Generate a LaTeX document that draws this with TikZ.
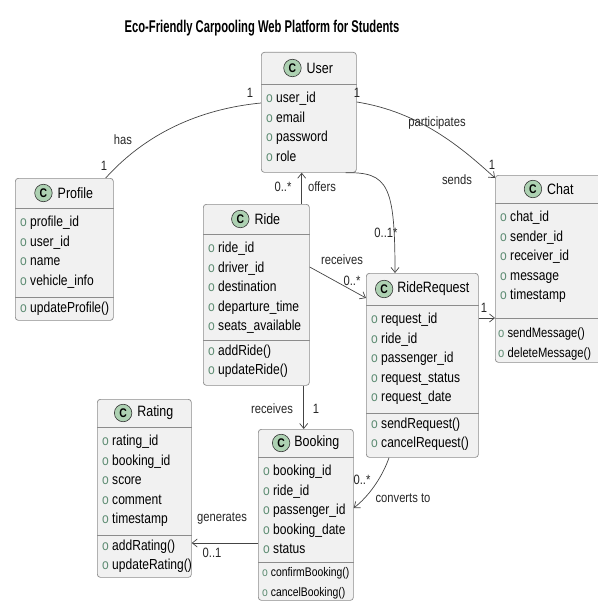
\documentclass[tikz,border=0pt]{standalone}
\usepackage{fontspec}
\setmainfont{Liberation Sans}[FakeStretch=0.83]
\newfontfamily\titlefont{Liberation Sans}[FakeStretch=0.66]
\usetikzlibrary{arrows.meta, positioning}
\definecolor{classfill}{HTML}{F1F1F1}
\definecolor{classline}{HTML}{8C8C8C}
\definecolor{badgegreen}{HTML}{ADD1B2}
\definecolor{fieldmark}{HTML}{5F8D74}
\definecolor{linkgray}{HTML}{444444}
\newcommand{\fld}[1]{\strut\textcolor{fieldmark}{o}~#1}

\begin{document}
\begin{tikzpicture}[x=1pt, y=-1pt,
  classbox/.style={rectangle, rounded corners=3pt, draw=classline, fill=classfill, line width=0.7pt, anchor=north west, inner sep=0pt},
  classname/.style={font=\fontsize{15}{17}\selectfont, inner sep=0pt},
  badge/.style={circle, draw=black!80, fill=badgegreen, line width=0.6pt, minimum size=17.5pt, inner sep=0pt, font=\bfseries\fontsize{12.5}{13}\selectfont},
  sepline/.style={draw=classline, line width=0.7pt},
  fields/.style={anchor=north west, inner sep=0pt, align=left, font=\fontsize{14.5}{19.5}\selectfont},
  smallfields/.style={fields, font=\fontsize{12.5}{19.5}\selectfont},
  link/.style={draw=linkgray, line width=0.7pt},
  arr/.style={link, -{Straight Barb[length=5pt, width=8pt]}},
  lbl/.style={font=\fontsize{13.5}{15}\selectfont, inner sep=0pt, text=black!85}]
\useasboundingbox (0,0) rectangle (597,604);

% Title
\node[font=\titlefont\bfseries\fontsize{17}{20}\selectfont] (title) at (262,28) {Eco-Friendly Carpooling Web Platform for Students};

% User
\node[classbox, minimum width=95, minimum height=120] (user) at (261,52) {};
\node[classname] (usern) at ([xshift=11pt, yshift=-16pt]user.north) {User};
\node[badge, left=5pt of usern] (userc) {C};
\draw[sepline] ([yshift=-32pt]user.north west) -- ([yshift=-32pt]user.north east);
\node[fields] (userf) at ([xshift=5pt, yshift=-37pt]user.north west) {\fld{user\_id}\\ \fld{email}\\ \fld{password}\\ \fld{role}};

% Profile
\node[classbox, minimum width=98, minimum height=142] (profile) at (15,178) {};
\node[classname] (profilen) at ([xshift=11pt, yshift=-15pt]profile.north) {Profile};
\node[badge, left=5pt of profilen] (profilec) {C};
\draw[sepline] ([yshift=-30pt]profile.north west) -- ([yshift=-30pt]profile.north east);
\draw[sepline] ([yshift=-119pt]profile.north west) -- ([yshift=-119pt]profile.north east);
\node[fields] (profilef) at ([xshift=5pt, yshift=-35pt]profile.north west) {\fld{profile\_id}\\ \fld{user\_id}\\ \fld{name}\\ \fld{vehicle\_info}};
\node[fields] (profilem) at ([xshift=5pt, yshift=-120.5pt]profile.north west) {\fld{updateProfile()}};

% Ride
\node[classbox, minimum width=106, minimum height=181] (ride) at (203,204) {};
\node[classname] (riden) at ([xshift=11pt, yshift=-15pt]ride.north) {Ride};
\node[badge, left=5pt of riden] (ridec) {C};
\draw[sepline] ([yshift=-30pt]ride.north west) -- ([yshift=-30pt]ride.north east);
\draw[sepline] ([yshift=-136pt]ride.north west) -- ([yshift=-136pt]ride.north east);
\node[fields] (ridef) at ([xshift=5pt, yshift=-35pt]ride.north west) {\fld{ride\_id}\\ \fld{driver\_id}\\ \fld{destination}\\ \fld{departure\_time}\\ \fld{seats\_available}};
\node[fields] (ridem) at ([xshift=5pt, yshift=-137.5pt]ride.north west) {\fld{addRide()}\\ \fld{updateRide()}};

% RideRequest
\node[classbox, minimum width=112, minimum height=184] (riderequest) at (366,273) {};
\node[classname] (riderequestn) at ([xshift=11pt, yshift=-16pt]riderequest.north) {RideRequest};
\node[badge, left=4pt of riderequestn] (riderequestc) {C};
\draw[sepline] ([yshift=-32pt]riderequest.north west) -- ([yshift=-32pt]riderequest.north east);
\draw[sepline] ([yshift=-140pt]riderequest.north west) -- ([yshift=-140pt]riderequest.north east);
\node[fields] (riderequestf) at ([xshift=5pt, yshift=-37pt]riderequest.north west) {\fld{request\_id}\\ \fld{ride\_id}\\ \fld{passenger\_id}\\ \fld{request\_status}\\ \fld{request\_date}};
\node[fields] (riderequestm) at ([xshift=5pt, yshift=-141.5pt]riderequest.north west) {\fld{sendRequest()}\\ \fld{cancelRequest()}};

% Chat
\node[classbox, minimum width=108, minimum height=187] (chat) at (495,175) {};
\node[classname] (chatn) at ([xshift=11pt, yshift=-14pt]chat.north) {Chat};
\node[badge, left=5pt of chatn] (chatc) {C};
\draw[sepline] ([yshift=-28pt]chat.north west) -- ([yshift=-28pt]chat.north east);
\draw[sepline] ([yshift=-143pt]chat.north west) -- ([yshift=-143pt]chat.north east);
\node[fields] (chatf) at ([xshift=5pt, yshift=-33pt]chat.north west) {\fld{chat\_id}\\ \fld{sender\_id}\\ \fld{receiver\_id}\\ \fld{message}\\ \fld{timestamp}};
\node[fields, font=\fontsize{13.5}{19.5}\selectfont] (chatm) at ([xshift=3pt, yshift=-149pt]chat.north west) {\fld{sendMessage()}\\ \fld{deleteMessage()}};

% Rating
\node[classbox, minimum width=94, minimum height=178] (rating) at (97,399) {};
\node[classname] (ratingn) at ([xshift=11pt, yshift=-14pt]rating.north) {Rating};
\node[badge, left=5pt of ratingn] (ratingc) {C};
\draw[sepline] ([yshift=-28pt]rating.north west) -- ([yshift=-28pt]rating.north east);
\draw[sepline] ([yshift=-136pt]rating.north west) -- ([yshift=-136pt]rating.north east);
\node[fields] (ratingf) at ([xshift=5pt, yshift=-33pt]rating.north west) {\fld{rating\_id}\\ \fld{booking\_id}\\ \fld{score}\\ \fld{comment}\\ \fld{timestamp}};
\node[fields] (ratingm) at ([xshift=5pt, yshift=-137.5pt]rating.north west) {\fld{addRating()}\\ \fld{updateRating()}};

% Booking
\node[classbox, minimum width=95, minimum height=171] (booking) at (258,429) {};
\node[classname] (bookingn) at ([xshift=11pt, yshift=-14pt]booking.north) {Booking};
\node[badge, left=4pt of bookingn] (bookingc) {C};
\draw[sepline] ([yshift=-28pt]booking.north west) -- ([yshift=-28pt]booking.north east);
\draw[sepline] ([yshift=-133pt]booking.north west) -- ([yshift=-133pt]booking.north east);
\node[fields] (bookingf) at ([xshift=5pt, yshift=-33pt]booking.north west) {\fld{booking\_id}\\ \fld{ride\_id}\\ \fld{passenger\_id}\\ \fld{booking\_date}\\ \fld{status}};
\node[smallfields] (bookingm) at ([xshift=4pt, yshift=-134pt]booking.north west) {\fld{confirmBooking()}\\ \fld{cancelBooking()}};

% Associations
\draw[link] ([yshift=-51pt]user.north west) .. controls (190,110) and (140,140) .. ([xshift=-8pt]profile.north east);
\draw[arr] ([yshift=-50pt]user.north east) .. controls (420,112) and (462,148) .. ([yshift=-3pt]chat.north west);
\coordinate (offx) at ([xshift=-8pt]ride.north east);
\draw[arr] (offx) -- (offx |- user.south);
\coordinate (reqin) at ([xshift=29pt]riderequest.north west);
\draw[arr] ([xshift=-11pt]user.south east) .. controls (388,172) and (395,185) .. (reqin);
\draw[arr] ([yshift=-63pt]ride.north east) -- ([yshift=-25pt]riderequest.north west);
\coordinate (bkx) at ([xshift=-6pt]ride.south east);
\draw[arr] (bkx) -- (bkx |- booking.north);
\draw[arr] ([xshift=23pt]riderequest.south west) .. controls (382,478) and (368,497) .. ([yshift=-79pt]booking.north east);
\coordinate (genf) at ([yshift=-114pt]booking.north west);
\draw[arr] (genf) -- (genf -| rating.east);
\coordinate (sendf) at ([yshift=-45pt]riderequest.north east);
\draw[arr] (sendf) -- (sendf -| chat.west);

% Labels
\node[lbl] (has1u) at (250,93) {1};
\node[lbl] (hasl) at (123,140) {has};
\node[lbl] (has1p) at (104,166) {1};
\node[lbl] (part1u) at (357,93) {1};
\node[lbl] (partl) at (437,123) {participates};
\node[lbl] (part1c) at (492,165) {1};
\node[lbl] (sendsl) at (457,180) {sends};
\node[lbl] (offm) at (283,187) {0..*};
\node[lbl] (offl) at (322,187) {offers};
\node[lbl] (reqm) at (386,233) {0..1*};
\node[lbl] (recl) at (342,260) {receives};
\node[lbl] (recm) at (352,281) {0..*};
\node[lbl] (bkl) at (272,409) {receives};
\node[lbl] (bk1) at (316,409) {1};
\node[lbl] (convm) at (362,480) {0..*};
\node[lbl] (convl) at (403,498) {converts to};
\node[lbl] (genl) at (222,519) {generates};
\node[lbl] (genm) at (212,553) {0..1};
\node[lbl] (send1) at (484,308) {1};
\end{tikzpicture}
\end{document}
